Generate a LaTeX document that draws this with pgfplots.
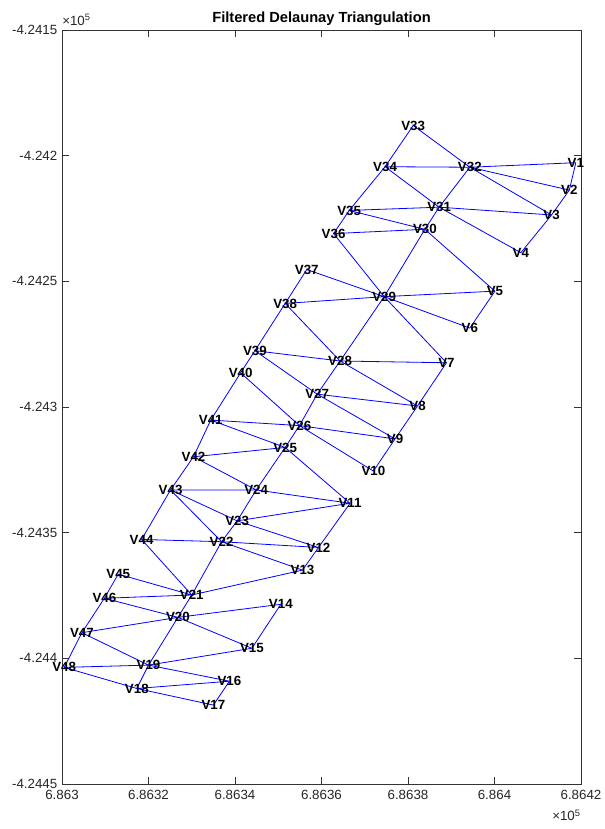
\documentclass[border=0pt]{standalone}
\usepackage{fontspec}
\setmainfont{Liberation Sans}
\usepackage{pgfplots}
\usepackage{pgfplotstable}
\pgfplotsset{compat=1.18}

% vertex positions: x = easting - 686300 m, y = northing + 424450 m
\pgfplotstableread{
lab x y
V1 118.8 247.2
V2 117.3 236.3
V3 113.2 226.4
V4 106.1 211.4
V5 100.1 196.1
V6 94.3 181.4
V7 88.9 167.6
V8 82.2 150.4
V9 77.0 137.3
V10 72.0 124.5
V11 66.6 111.7
V12 59.3 94.1
V13 55.6 85.1
V14 50.6 71.5
V15 43.9 54.0
V16 38.7 40.9
V17 35.0 31.4
V18 17.3 38.0
V19 20.0 47.3
V20 26.8 66.3
V21 30.0 75.2
V22 36.9 96.4
V23 40.5 104.7
V24 44.9 117.0
V25 51.6 133.9
V26 54.9 142.6
V27 59.0 155.1
V28 64.3 168.3
V29 74.5 193.9
V30 83.9 220.7
V31 87.2 229.5
V32 94.3 245.4
V33 81.2 262.0
V34 74.7 245.6
V35 66.4 228.2
V36 62.8 219.0
V37 56.6 204.7
V38 51.6 191.2
V39 44.6 172.4
V40 41.3 163.6
V41 34.4 144.8
V42 30.4 130.2
V43 25.1 117.0
V44 18.4 97.3
V45 13.0 83.5
V46 9.8 73.9
V47 4.6 60.2
V48 0.5 46.4
}\verts

\pgfplotstableread{
x y
81.2 262.0
74.7 245.6
nan nan
81.2 262.0
94.3 245.4
nan nan
74.7 245.6
94.3 245.4
nan nan
94.3 245.4
118.8 247.2
nan nan
118.8 247.2
117.3 236.3
nan nan
94.3 245.4
117.3 236.3
nan nan
94.3 245.4
113.2 226.4
nan nan
117.3 236.3
113.2 226.4
nan nan
94.3 245.4
87.2 229.5
nan nan
74.7 245.6
87.2 229.5
nan nan
87.2 229.5
113.2 226.4
nan nan
87.2 229.5
106.1 211.4
nan nan
113.2 226.4
106.1 211.4
nan nan
74.7 245.6
66.4 228.2
nan nan
66.4 228.2
87.2 229.5
nan nan
87.2 229.5
83.9 220.7
nan nan
66.4 228.2
83.9 220.7
nan nan
66.4 228.2
62.8 219.0
nan nan
62.8 219.0
83.9 220.7
nan nan
62.8 219.0
74.5 193.9
nan nan
83.9 220.7
74.5 193.9
nan nan
83.9 220.7
100.1 196.1
nan nan
74.5 193.9
100.1 196.1
nan nan
74.5 193.9
94.3 181.4
nan nan
100.1 196.1
94.3 181.4
nan nan
56.6 204.7
74.5 193.9
nan nan
56.6 204.7
51.6 191.2
nan nan
51.6 191.2
74.5 193.9
nan nan
74.5 193.9
64.3 168.3
nan nan
74.5 193.9
88.9 167.6
nan nan
51.6 191.2
64.3 168.3
nan nan
51.6 191.2
44.6 172.4
nan nan
44.6 172.4
64.3 168.3
nan nan
64.3 168.3
88.9 167.6
nan nan
64.3 168.3
82.2 150.4
nan nan
88.9 167.6
82.2 150.4
nan nan
64.3 168.3
59.0 155.1
nan nan
44.6 172.4
59.0 155.1
nan nan
44.6 172.4
41.3 163.6
nan nan
41.3 163.6
54.9 142.6
nan nan
59.0 155.1
82.2 150.4
nan nan
59.0 155.1
77.0 137.3
nan nan
59.0 155.1
54.9 142.6
nan nan
54.9 142.6
77.0 137.3
nan nan
54.9 142.6
72.0 124.5
nan nan
77.0 137.3
82.2 150.4
nan nan
77.0 137.3
72.0 124.5
nan nan
34.4 144.8
54.9 142.6
nan nan
34.4 144.8
51.6 133.9
nan nan
41.3 163.6
34.4 144.8
nan nan
54.9 142.6
51.6 133.9
nan nan
51.6 133.9
66.6 111.7
nan nan
30.4 130.2
51.6 133.9
nan nan
34.4 144.8
30.4 130.2
nan nan
30.4 130.2
44.9 117.0
nan nan
30.4 130.2
25.1 117.0
nan nan
25.1 117.0
44.9 117.0
nan nan
44.9 117.0
51.6 133.9
nan nan
44.9 117.0
66.6 111.7
nan nan
25.1 117.0
40.5 104.7
nan nan
25.1 117.0
36.9 96.4
nan nan
40.5 104.7
66.6 111.7
nan nan
40.5 104.7
44.9 117.0
nan nan
40.5 104.7
59.3 94.1
nan nan
66.6 111.7
59.3 94.1
nan nan
40.5 104.7
36.9 96.4
nan nan
18.4 97.3
36.9 96.4
nan nan
25.1 117.0
18.4 97.3
nan nan
36.9 96.4
59.3 94.1
nan nan
36.9 96.4
55.6 85.1
nan nan
59.3 94.1
55.6 85.1
nan nan
18.4 97.3
30.0 75.2
nan nan
36.9 96.4
30.0 75.2
nan nan
30.0 75.2
55.6 85.1
nan nan
13.0 83.5
30.0 75.2
nan nan
9.8 73.9
30.0 75.2
nan nan
13.0 83.5
9.8 73.9
nan nan
9.8 73.9
26.8 66.3
nan nan
30.0 75.2
26.8 66.3
nan nan
26.8 66.3
50.6 71.5
nan nan
50.6 71.5
43.9 54.0
nan nan
26.8 66.3
43.9 54.0
nan nan
4.6 60.2
26.8 66.3
nan nan
9.8 73.9
4.6 60.2
nan nan
4.6 60.2
20.0 47.3
nan nan
26.8 66.3
20.0 47.3
nan nan
20.0 47.3
43.9 54.0
nan nan
20.0 47.3
38.7 40.9
nan nan
0.5 46.4
20.0 47.3
nan nan
4.6 60.2
0.5 46.4
nan nan
0.5 46.4
17.3 38.0
nan nan
20.0 47.3
17.3 38.0
nan nan
17.3 38.0
38.7 40.9
nan nan
17.3 38.0
35.0 31.4
nan nan
38.7 40.9
35.0 31.4
}\edges

\begin{document}
\begin{tikzpicture}
\begin{axis}[
  scale only axis,
  width=389.25pt, height=565.5pt,
  xmin=0, xmax=120, ymin=0, ymax=300,
  clip=false,
  unbounded coords=jump,
  xtick={0,20,40,60,80,100,120},
  xticklabels={6.863,6.8632,6.8634,6.8636,6.8638,6.864,6.8642},
  ytick={0,50,100,150,200,250,300},
  yticklabels={-4.2445,-4.244,-4.2435,-4.243,-4.2425,-4.242,-4.2415},
  tick align=inside, tick pos=both,
  major tick length=5pt,
  axis line style={draw=black!80, line width=0.6pt},
  tick style={draw=black!80, line width=0.5pt},
  /pgf/number format/assume math mode=true,
  ticklabel style={font=\fontsize{10}{12}\selectfont, text=black!85},
  xticklabel style={yshift=-1pt},
]
\addplot[blue, line width=0.6pt] table[x=x, y=y] {\edges};
\addplot[draw=none, nodes near coords, point meta=explicit symbolic,
  nodes near coords style={anchor=center, inner sep=0pt, text=black,
    font=\fontsize{10}{11}\selectfont\bfseries}]
  table[x=x, y=y, meta=lab] {\verts};
\node[anchor=base, font=\fontsize{11}{13}\selectfont\bfseries, yshift=5.5pt]
  at (rel axis cs:0.5,1) {Filtered Delaunay Triangulation};
\node[anchor=south west, inner sep=0pt, yshift=3pt, text=black!85,
  font=\fontsize{10}{12}\selectfont] at (rel axis cs:0,1) {×10\textsuperscript{5}};
\node[anchor=north east, inner sep=0pt, yshift=-19pt, text=black!85,
  font=\fontsize{10}{12}\selectfont] at (rel axis cs:1,0) {×10\textsuperscript{5}};
\end{axis}
\pgfresetboundingbox
\path[use as bounding box] ([xshift=-46.5pt,yshift=-33.75pt]current axis.south west)
  rectangle ([xshift=18pt,yshift=22.5pt]current axis.north east);
\end{tikzpicture}
\end{document}
